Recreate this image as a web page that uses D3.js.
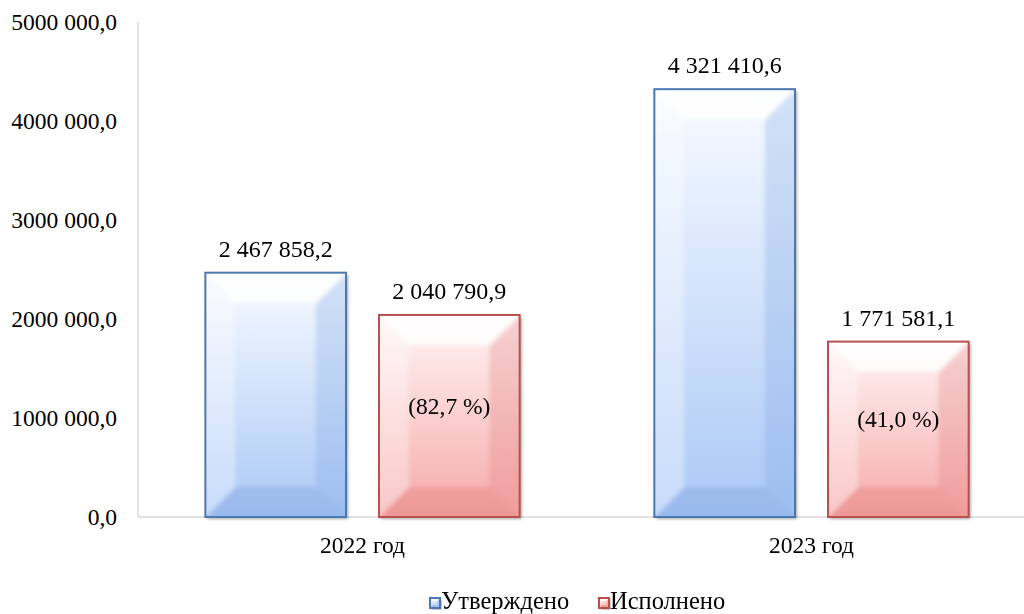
<!DOCTYPE html>
<html>
<head>
<meta charset="utf-8">
<script src="https://cdn.jsdelivr.net/npm/d3@7"></script>
<style>
  body { margin: 0; background: #fff; }
  svg text { font-family: "Liberation Serif", "DejaVu Serif", serif; }
</style>
</head>
<body>
<svg id="chart" width="1024" height="614"></svg>
<script>
const categories = ["2022 год", "2023 год"];
const seriesNames = ["Утверждено", "Исполнено"];
const approved = [2467858.2, 4321410.6];
const executed = [2040790.9, 1771581.1];
const percentLabels = ["(82,7 %)", "(41,0 %)"];
const yTicks = [0, 1000000, 2000000, 3000000, 4000000, 5000000];
const yTickLabels = ["0,0", "1000 000,0", "2000 000,0", "3000 000,0", "4000 000,0", "5000 000,0"];

const width = 1024;
const height = 614;
const margin = { top: 22, right: -12, bottom: 97, left: 138 };
const fontSize = 23.5;

const colors = {
  blue: { top: "#f8fbff", bottom: "#aac8f6", edge: "#7fa6e0", stroke: "#4a78b0" },
  red: { top: "#fff5f5", bottom: "#f7a9a9", edge: "#e07f7f", stroke: "#b8504e" }
};
const seriesColors = [colors.blue, colors.red];

const ru = d3.formatLocale({ decimal: ",", thousands: " ", grouping: [3], currency: ["", ""] });
const fmt = ru.format(",.1f");

const svg = d3.select("#chart");
const defs = svg.append("defs");

seriesColors.forEach((c, i) => {
  const g = defs.append("linearGradient")
    .attr("id", "grad" + i)
    .attr("x1", 0).attr("y1", 0).attr("x2", 0).attr("y2", 1);
  g.append("stop").attr("offset", "0%").attr("stop-color", c.top);
  g.append("stop").attr("offset", "100%").attr("stop-color", c.bottom);
});

const f = defs.append("filter").attr("id", "shadow")
  .attr("x", "-10%").attr("y", "-10%").attr("width", "130%").attr("height", "130%");
f.append("feDropShadow").attr("dx", 2).attr("dy", 2).attr("stdDeviation", 1.5)
  .attr("flood-color", "#000").attr("flood-opacity", 0.35);

defs.append("filter").attr("id", "soft")
  .append("feGaussianBlur").attr("stdDeviation", 2.2);

const x0 = d3.scaleBand()
  .domain(categories)
  .range([margin.left, width - margin.right])
  .paddingInner(0.3)
  .paddingOuter(0.15);

const x1 = d3.scaleBand()
  .domain(seriesNames)
  .range([0, x0.bandwidth()])
  .paddingInner(0.19);

const y = d3.scaleLinear()
  .domain([0, 5000000])
  .range([height - margin.bottom, margin.top]);

// axes lines
svg.append("line")
  .attr("x1", margin.left).attr("x2", margin.left)
  .attr("y1", y(5000000)).attr("y2", y(0))
  .attr("stroke", "#d9d9d9").attr("stroke-width", 1.5);
svg.append("line")
  .attr("x1", margin.left).attr("x2", width)
  .attr("y1", y(0)).attr("y2", y(0))
  .attr("stroke", "#d9d9d9").attr("stroke-width", 1.5);

// y tick labels
svg.append("g").selectAll("text")
  .data(yTicks)
  .join("text")
  .attr("x", margin.left - 21)
  .attr("y", d => y(d))
  .attr("dy", "0.35em")
  .attr("text-anchor", "end")
  .attr("font-size", fontSize)
  .attr("fill", "#000")
  .text((d, i) => yTickLabels[i]);

let clipId = 0;
function bevelBar(g, bx, by, bw, bh, ci, b0) {
  const c = seriesColors[ci];
  const b = Math.min(b0, bh / 2, bw / 2);
  const id = "clip" + (clipId++);
  defs.append("clipPath").attr("id", id)
    .append("rect").attr("x", bx).attr("y", by).attr("width", bw).attr("height", bh);
  g.append("rect")
    .attr("x", bx).attr("y", by).attr("width", bw).attr("height", bh)
    .attr("fill", "url(#grad" + ci + ")")
    .attr("filter", "url(#shadow)");
  const pts = (arr) => arr.map(p => p.join(",")).join(" ");
  const bev = g.append("g").attr("clip-path", `url(#${id})`)
    .append("g").attr("filter", b0 > 10 ? "url(#soft)" : null);
  bev.append("polygon")
    .attr("points", pts([[bx - 4, by - 4], [bx + bw + 4, by - 4], [bx + bw - b, by + b], [bx + b, by + b]]))
    .attr("fill", "#fff").attr("opacity", 0.85);
  bev.append("polygon")
    .attr("points", pts([[bx - 4, by - 4], [bx + b, by + b], [bx + b, by + bh - b], [bx - 4, by + bh + 4]]))
    .attr("fill", "#fff").attr("opacity", 0.35);
  bev.append("polygon")
    .attr("points", pts([[bx + bw + 4, by - 4], [bx + bw + 4, by + bh + 4], [bx + bw - b, by + bh - b], [bx + bw - b, by + b]]))
    .attr("fill", c.edge).attr("opacity", 0.3);
  bev.append("polygon")
    .attr("points", pts([[bx - 4, by + bh + 4], [bx + b, by + bh - b], [bx + bw - b, by + bh - b], [bx + bw + 4, by + bh + 4]]))
    .attr("fill", c.edge).attr("opacity", 0.4);
  g.append("rect")
    .attr("x", bx).attr("y", by).attr("width", bw).attr("height", bh)
    .attr("fill", "none")
    .attr("stroke", c.stroke).attr("stroke-width", 2);
}

const groups = svg.append("g").selectAll("g")
  .data(categories)
  .join("g");

groups.each(function (cat, i) {
  const g = d3.select(this);
  const vals = [approved[i], executed[i]];
  vals.forEach((v, s) => {
    const bx = x0(cat) + x1(seriesNames[s]);
    const by = y(v);
    const bw = x1.bandwidth();
    const bh = y(0) - y(v);
    bevelBar(g, bx, by, bw, bh, s, 30);
    g.append("text")
      .attr("x", bx + bw / 2)
      .attr("y", by - 16)
      .attr("text-anchor", "middle")
      .attr("font-size", 24)
      .text(fmt(v));
    if (s === 1) {
      g.append("text")
        .attr("x", bx + bw / 2)
        .attr("y", by + bh / 2)
        .attr("dy", "-0.08em")
        .attr("text-anchor", "middle")
        .attr("font-size", fontSize)
        .text(percentLabels[i]);
    }
  });
  g.append("text")
    .attr("x", x0(cat) + x0.bandwidth() / 2)
    .attr("y", y(0) + 36)
    .attr("text-anchor", "middle")
    .attr("font-size", fontSize)
    .text(cat);
});

// legend
const legend = svg.append("g");
const legendX = [430, 599];
seriesNames.forEach((name, i) => {
  const lg = legend.append("g").attr("transform", `translate(${legendX[i]},598)`);
  bevelBar(lg, 0, 0, 10, 10, i, 3);
  lg.append("text")
    .attr("x", 11)
    .attr("y", 10.5)
    .attr("font-size", 24.5)
    .text(name);
});
</script>
</body>
</html>
